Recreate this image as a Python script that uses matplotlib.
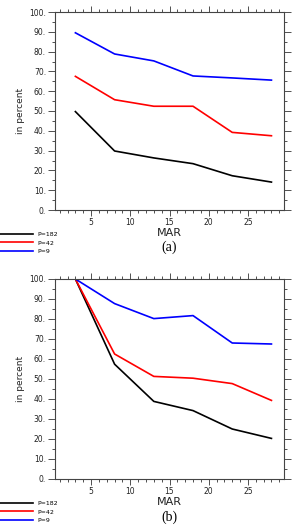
import matplotlib
matplotlib.use("Agg")
import matplotlib.pyplot as plt
from matplotlib.ticker import MultipleLocator, FuncFormatter

days = [3, 8, 13, 18, 23, 28]
labels = ["P=182", "P=42", "P=9"]
colors = ["black", "red", "blue"]

a_p182 = [49.7, 29.8, 26.3, 23.4, 17.3, 14.1]
a_p42 = [67.5, 55.7, 52.4, 52.4, 39.2, 37.5]
a_p9 = [89.5, 78.8, 75.3, 67.7, 66.7, 65.6]

b_p182 = [100.0, 57.4, 38.8, 34.2, 25.0, 20.3]
b_p42 = [100.0, 62.5, 51.3, 50.4, 47.7, 39.3]
b_p9 = [100.0, 87.7, 80.2, 81.7, 68.0, 67.5]

panels = [("(a)", [a_p182, a_p42, a_p9]), ("(b)", [b_p182, b_p42, b_p9])]

fig = plt.figure(figsize=(2.94, 5.27), dpi=100)
W, H = 294, 527
boxes = [(55, 12, 284, 210), (55, 279, 284, 479)]
leg_y = [232, 501]

for (tag, series), (l, t, r, b), ly in zip(panels, boxes, leg_y):
    ax = fig.add_axes([l / W, 1 - b / H, (r - l) / W, (b - t) / H])
    handles = []
    for vals, lab, c in zip(series, labels, colors):
        h, = ax.plot(days, vals, color=c, lw=1.2, label=lab)
        handles.append(h)
    ax.set_xlim(0.4, 29.6)
    ax.set_ylim(0, 100)
    ax.xaxis.set_major_locator(MultipleLocator(5))
    ax.xaxis.set_minor_locator(MultipleLocator(1))
    ax.yaxis.set_major_locator(MultipleLocator(10))
    ax.yaxis.set_minor_locator(MultipleLocator(5))
    ax.yaxis.set_major_formatter(FuncFormatter(lambda v, p: f"{int(v)}."))
    ax.xaxis.set_major_formatter(FuncFormatter(lambda v, p: "" if v <= 0 or v >= 30 else f"{int(v)}"))
    ax.tick_params(which="both", direction="out", top=True, right=True,
                   labelsize=5.5, width=0.6, colors="#333333", labelcolor="#222222")
    ax.tick_params(which="major", length=4, pad=1.5)
    ax.tick_params(which="minor", length=2.5)
    ax.tick_params(axis="y", which="major", length=5)
    for s in ax.spines.values():
        s.set_linewidth(0.8)
        s.set_color("#444444")
    ax.set_ylabel("in percent", fontsize=6.5, labelpad=3, color="#222222")
    ax.set_xlabel("MAR", fontsize=8, labelpad=1, color="#222222")
    ax.text(0.5, -0.19, tag, transform=ax.transAxes, ha="center", va="center",
            fontsize=10, family="Liberation Serif")
    fig.legend(handles=handles, loc="upper left", bbox_to_anchor=(0, 1 - ly / H),
               frameon=False, fontsize=4.5, handlelength=5.2, handletextpad=0.8,
               labelspacing=0.45, borderpad=0, borderaxespad=0)

fig.savefig("out.png", dpi=100)
